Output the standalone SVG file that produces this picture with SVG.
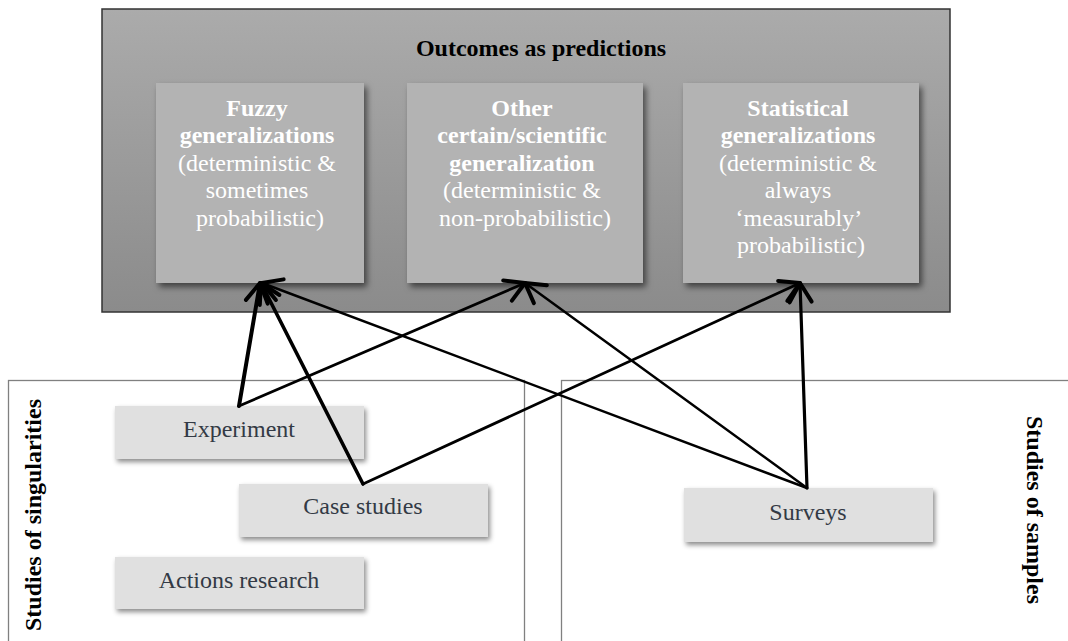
<svg xmlns="http://www.w3.org/2000/svg" width="1068" height="641" viewBox="0 0 1068 641">
  <defs>
    <linearGradient id="outerFill" x1="0" y1="0" x2="0" y2="1">
      <stop offset="0" stop-color="#ababab"/>
      <stop offset="1" stop-color="#8b8b8b"/>
    </linearGradient>
    <filter id="shadow" x="-10%" y="-10%" width="125%" height="135%">
      <feDropShadow dx="3" dy="4" stdDeviation="3" flood-color="#000" flood-opacity="0.55"/>
    </filter>
    <filter id="shadowLight" x="-10%" y="-20%" width="125%" height="150%">
      <feDropShadow dx="2" dy="3" stdDeviation="2.5" flood-color="#000" flood-opacity="0.45"/>
    </filter>
    <marker id="openArrow" markerUnits="userSpaceOnUse" markerWidth="28" markerHeight="32" viewBox="-24 -16 28 32" refX="0" refY="0" orient="auto">
      <path d="M -19 -11 L 0 0 L -19 11" fill="none" stroke="#000" stroke-width="4" stroke-linecap="round" stroke-linejoin="round"/>
    </marker>
  </defs>
  <style>
    .serif { font-family: "Liberation Serif", "Times New Roman", serif; font-size: 24px; }
    .title { font-weight: bold; fill: #000; }
    .outcome { fill: #b3b3b3; }
    .outcomeText { fill: #ffffff; text-anchor: middle; }
    .b { font-weight: bold; }
    .method { fill: #e0e0e0; }
    .methodText { fill: #333a45; text-anchor: middle; }
    .panel { fill: none; stroke: #808080; stroke-width: 1.3; }
    .side { font-weight: bold; fill: #000; text-anchor: middle; }
    .conn { fill: none; stroke: #000; stroke-linecap: round; marker-end: url(#openArrow); }
  </style>

  <rect width="1068" height="641" fill="#ffffff"/>

  <!-- lower panels -->
  <g id="singularities">
    <rect class="panel" x="8.5" y="380.5" width="516" height="300"/>
    <text class="serif side" transform="translate(41 515) rotate(-90)">Studies of singularities</text>
  </g>
  <g id="samples">
    <rect class="panel" x="561.5" y="380.5" width="540" height="300"/>
    <text class="serif side" transform="translate(1027 510) rotate(90)">Studies of samples</text>
  </g>

  <!-- outcome container -->
  <g id="outcomes">
    <rect x="102" y="9" width="848" height="303" fill="url(#outerFill)" stroke="#333" stroke-width="1.5"/>
    <text class="serif title" x="541" y="56" text-anchor="middle">Outcomes as predictions</text>
  </g>

  <g id="fuzzy">
    <rect class="outcome" x="156" y="83" width="208" height="200" filter="url(#shadow)"/>
    <text class="serif outcomeText">
      <tspan class="b" x="260" y="115.5">Fuzzy</tspan>
      <tspan class="b" x="260" y="143">generalizations</tspan>
      <tspan x="260" y="170.6">(deterministic &amp;</tspan>
      <tspan x="260" y="198.2">sometimes</tspan>
      <tspan x="260" y="225.8">probabilistic)</tspan>
    </text>
  </g>

  <g id="other">
    <rect class="outcome" x="407" y="83" width="236" height="200" filter="url(#shadow)"/>
    <text class="serif outcomeText">
      <tspan class="b" x="525" y="115.5">Other</tspan>
      <tspan class="b" x="525" y="143">certain/scientific</tspan>
      <tspan class="b" x="525" y="170.6">generalization</tspan>
      <tspan x="525" y="198.2">(deterministic &amp;</tspan>
      <tspan x="525" y="225.8">non-probabilistic)</tspan>
    </text>
  </g>

  <g id="statistical">
    <rect class="outcome" x="683" y="83" width="236" height="200" filter="url(#shadow)"/>
    <text class="serif outcomeText">
      <tspan class="b" x="801" y="115.5">Statistical</tspan>
      <tspan class="b" x="801" y="143">generalizations</tspan>
      <tspan x="801" y="170.6">(deterministic &amp;</tspan>
      <tspan x="801" y="198.2">always</tspan>
      <tspan x="801" y="225.8">‘measurably’</tspan>
      <tspan x="801" y="253.4">probabilistic)</tspan>
    </text>
  </g>

  <!-- research methods -->
  <g id="experiment">
    <rect class="method" x="115" y="406" width="249" height="53" filter="url(#shadowLight)"/>
    <text class="serif methodText" x="239" y="437">Experiment</text>
  </g>
  <g id="case-studies">
    <rect class="method" x="239" y="484" width="249" height="53" filter="url(#shadowLight)"/>
    <text class="serif methodText" x="363" y="514">Case studies</text>
  </g>
  <g id="action-research">
    <rect class="method" x="115" y="557" width="249" height="52" filter="url(#shadowLight)"/>
    <text class="serif methodText" x="239" y="588">Actions research</text>
  </g>
  <g id="surveys">
    <rect class="method" x="684" y="488" width="249" height="54" filter="url(#shadowLight)"/>
    <text class="serif methodText" x="808" y="520">Surveys</text>
  </g>

  <!-- connectors -->
  <g id="connectors">
    <line class="conn" x1="239" y1="406" x2="260" y2="283" stroke-width="4"/>
    <line class="conn" x1="239" y1="406" x2="525" y2="283" stroke-width="2.8"/>
    <line class="conn" x1="363" y1="484" x2="261" y2="283" stroke-width="3.6"/>
    <line class="conn" x1="363" y1="484" x2="800" y2="283" stroke-width="2.8"/>
    <line class="conn" x1="807" y1="488" x2="262" y2="283" stroke-width="2.5"/>
    <line class="conn" x1="807" y1="488" x2="525" y2="283" stroke-width="2.5"/>
    <line class="conn" x1="807" y1="488" x2="800" y2="283" stroke-width="3.2"/>
  </g>
</svg>
